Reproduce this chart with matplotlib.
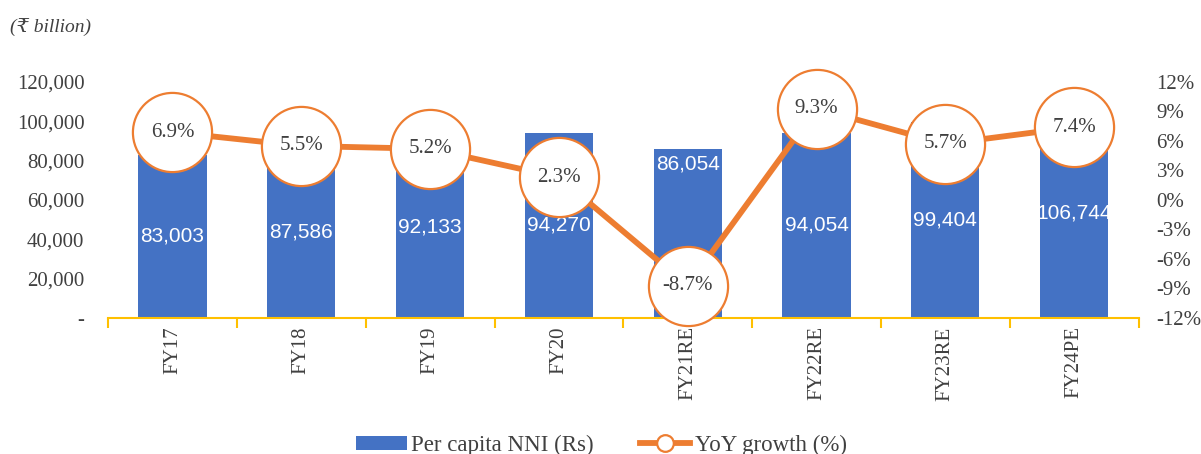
import numpy as np
import matplotlib.pyplot as plt
from matplotlib.ticker import FuncFormatter, FixedLocator
from matplotlib.lines import Line2D

# Data
categories = ['FY17', 'FY18', 'FY19', 'FY20', 'FY21RE', 'FY22RE', 'FY23RE', 'FY24PE']
nni = [83003, 87586, 92133, 94270, 86054, 94054, 99404, 106744]
growth = [6.9, 5.5, 5.2, 2.3, -8.7, 9.3, 5.7, 7.4]

blue = '#4472C4'
orange = '#ED7D31'
grey = '#404040'
serif = ['Liberation Serif', 'DejaVu Serif']

fig = plt.figure(figsize=(12.01, 4.54), dpi=100)
ax1 = fig.add_axes([0.09, 0.2996, 0.858, 0.5198])
x = np.arange(len(categories))

bars = ax1.bar(x, nni, width=0.53, color=blue, zorder=2, label='Per capita NNI (Rs)')
ax1.set_ylim(0, 120000)
ax1.set_xlim(-0.5, len(categories) - 0.5)
ax1.yaxis.set_major_locator(FixedLocator(np.arange(0, 120001, 20000)))
ax1.yaxis.set_major_formatter(FuncFormatter(lambda v, p: '-' if v == 0 else f'{v:,.0f}'))
for s in ['top', 'left', 'right']:
    ax1.spines[s].set_visible(False)
ax1.spines['bottom'].set_color('#FFC000')
ax1.spines['bottom'].set_linewidth(1.5)
ax1.tick_params(axis='y', length=0, pad=17, labelsize=15, labelcolor=grey)
ax1.set_xticks(x)
ax1.set_xticklabels(categories, rotation=90, fontsize=15, color=grey, family=serif)
ax1.tick_params(axis='x', which='major', length=0, pad=6)
ax1.set_xticks(np.arange(-0.5, len(categories)), minor=True)
ax1.tick_params(axis='x', which='minor', length=7, width=1.5, color='#FFC000')
for lab in ax1.get_yticklabels():
    lab.set_family(serif)

# bar value labels (FY21RE sits near the top, the rest in the middle)
for i, v in enumerate(nni):
    ypos = v - 8000 if categories[i] == 'FY21RE' else v / 2
    ax1.text(x[i], ypos, f'{v:,}', ha='center', va='center', color='white',
             fontsize=15, family='Liberation Sans', zorder=3)

ax2 = ax1.twinx()
ax2.plot(x, growth, color=orange, lw=4.2, marker='o', ms=57, mfc='white', mec=orange,
         mew=1.6, zorder=3, clip_on=False, label='YoY growth (%)')
ax2.set_ylim(-12, 12)
ax2.yaxis.set_major_locator(FixedLocator(np.arange(-12, 13, 3)))
ax2.yaxis.set_major_formatter(FuncFormatter(lambda v, p: f'{v:.0f}%'))
ax2.tick_params(axis='y', length=0, pad=13, labelsize=15, labelcolor=grey)
for lab in ax2.get_yticklabels():
    lab.set_family(serif)
for s in ax2.spines.values():
    s.set_visible(False)
for i, g in enumerate(growth):
    ax2.text(x[i], g, f'{g}%', ha='center', va='center', fontsize=15, color=grey,
             family=serif, zorder=4, clip_on=False)

fig.text(0.008, 0.928, '(₹ billion)', fontsize=14, style='italic', color=grey, family=serif)

h1, l1 = ax1.get_legend_handles_labels()
h2 = [Line2D([], [], color=orange, lw=4.2, marker='o', ms=12, mfc='white', mec=orange, mew=1.6)]
fig.legend(h1 + h2, l1 + ['YoY growth (%)'], loc='lower center', bbox_to_anchor=(0.501, -0.05),
           ncol=2, frameon=False, prop={'family': serif, 'size': 16.5}, labelcolor=grey,
           handlelength=2.2, handleheight=0.6, handletextpad=0.2, columnspacing=2.0)

fig.savefig('out.png', dpi=100)
